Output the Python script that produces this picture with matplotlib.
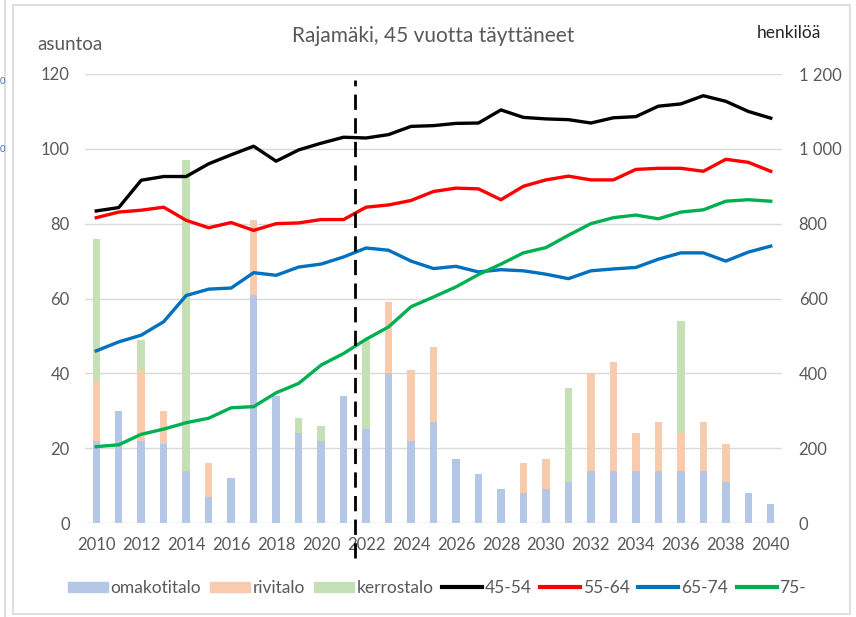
import matplotlib
matplotlib.use("Agg")
import matplotlib.pyplot as plt
from matplotlib.patches import Patch, Rectangle
from matplotlib.lines import Line2D
from matplotlib.ticker import FuncFormatter, MultipleLocator

years = list(range(2010, 2041))
omakotitalo = [22, 30, 22, 21, 14, 7, 12, 61, 34, 24, 22, 34,
               25, 40, 22, 27, 17, 13, 9, 8, 9, 11, 14, 14, 14, 14, 14, 14, 11, 8, 5]
rivitalo = [16, 0, 19, 9, 0, 9, 0, 20, 0, 0, 0, 0,
            0, 19, 19, 20, 0, 0, 0, 8, 8, 0, 26, 29, 10, 13, 10, 13, 10, 0, 0]
kerrostalo = [38, 0, 8, 0, 83, 0, 0, 0, 0, 4, 4, 0,
              24, 0, 0, 0, 0, 0, 0, 0, 0, 25, 0, 0, 0, 0, 30, 0, 0, 0, 0]

age_45_54 = [834, 843, 916, 926, 926, 960, 984, 1007, 967, 997, 1015, 1031,
             1029, 1038, 1060, 1062, 1068, 1069, 1104, 1084, 1080, 1078, 1069, 1083,
             1086, 1114, 1120, 1142, 1127, 1100, 1082]
age_55_64 = [816, 831, 836, 844, 809, 789, 803, 782, 800, 802, 811, 811,
             844, 850, 862, 886, 895, 893, 864, 900, 917, 927, 917, 917,
             945, 948, 948, 940, 972, 964, 940]
age_65_74 = [460, 484, 502, 538, 608, 625, 628, 669, 662, 684, 692, 711,
             735, 729, 700, 680, 686, 671, 677, 674, 665, 653, 674, 679,
             683, 705, 722, 722, 700, 724, 740]
age_75 = [204, 209, 237, 251, 268, 280, 308, 311, 348, 373, 422, 453,
          491, 524, 578, 604, 631, 664, 692, 722, 736, 769, 800, 816,
          823, 813, 831, 837, 860, 864, 860]

bar_labels = ["omakotitalo", "rivitalo", "kerrostalo"]
line_labels = ["45-54", "55-64", "65-74", "75-"]
title = "Rajamäki, 45 vuotta täyttäneet"

bar_colors = ["#B4C7E7", "#F8CBAD", "#C5E0B4"]
line_colors = ["#000000", "#FF0000", "#0070C0", "#00B050"]
txt = "#595959"
grid = "#D9D9D9"

plt.rcParams['font.family'] = ['Lato', 'DejaVu Sans']

W, H = 856, 617
fig = plt.figure(figsize=(W / 100, H / 100), dpi=100)
L, R, B, T = 85, 782, 523, 74
ax = fig.add_axes([L / W, 1 - B / H, (R - L) / W, (B - T) / H])
ax2 = ax.twinx()

x = list(range(len(years)))
bw = 0.33
bottom2 = [a + b for a, b in zip(omakotitalo, rivitalo)]
ax.bar(x, omakotitalo, bw, color=bar_colors[0], zorder=2)
ax.bar(x, rivitalo, bw, bottom=omakotitalo, color=bar_colors[1], zorder=2)
ax.bar(x, kerrostalo, bw, bottom=bottom2, color=bar_colors[2], zorder=2)

for series, c in zip([age_45_54, age_55_64, age_65_74, age_75], line_colors):
    ax2.plot(x, series, color=c, lw=2.4, solid_joinstyle='round', zorder=3)

ax.set_xlim(-0.5, len(years) - 0.5)
ax.set_ylim(0, 120)
ax2.set_ylim(0, 1200)
ax.yaxis.set_major_locator(MultipleLocator(20))
ax2.yaxis.set_major_locator(MultipleLocator(200))
ax2.yaxis.set_major_formatter(FuncFormatter(lambda v, p: f"{int(v):,}".replace(",", " ")))

ax.set_xticks(x[::2])
ax.set_xticklabels([str(y) for y in years[::2]])
ax.grid(axis='y', color=grid, lw=1, zorder=0)
ax.set_axisbelow(True)
for a in (ax, ax2):
    for s in a.spines.values():
        s.set_visible(False)
ax.tick_params(axis='y', length=0, pad=11, labelsize=12, labelcolor=txt)
ax2.tick_params(axis='y', length=0, pad=12, labelsize=12, labelcolor=txt)
ax.tick_params(axis='x', length=0, pad=10, labelsize=12, labelcolor=txt)

# dashed vertical separator
ax2.axvline(11.5, ymin=-0.078, ymax=0.987, color='black', lw=2,
            dashes=(5.5, 3), clip_on=False, zorder=5)

fig.text(433 / W, 1 - 36 / H, title, ha='center', va='center', fontsize=15, color=txt)
fig.text(37 / W, 1 - 45 / H, "asuntoa", ha='left', va='center', fontsize=13.5, color=txt)
fig.text(757 / W, 1 - 33 / H, "henkilöä", ha='left', va='center', fontsize=12.5, color='#262626')

# leftover labels at the far left edge
fig.text(0, 1 - 82 / H, "0", ha='left', va='center', fontsize=7, color='#4472C4')
fig.text(0, 1 - 150 / H, "0", ha='left', va='center', fontsize=7, color='#4472C4')

# chart borders
fig.add_artist(Rectangle((13 / W, 1 - 614 / H), (850 - 13) / W, (614 - 5) / H,
                         transform=fig.transFigure, fill=False, ec='#D9D9D9', lw=1.2))
fig.add_artist(Line2D([5 / W, 5 / W], [0, 1], transform=fig.transFigure,
                      color='#D9D9D9', lw=1.2))

handles = [Patch(color=c, label=l) for c, l in zip(bar_colors, bar_labels)]
handles += [Line2D([], [], color=c, lw=3, label=l) for c, l in zip(line_colors, line_labels)]
fs_leg = 12.5
hl = 40 / (fs_leg * 100 / 72)
fig.legend(handles=handles, loc='center', bbox_to_anchor=(437 / W, 1 - 588 / H), ncol=7,
           frameon=False, fontsize=fs_leg, labelcolor=txt, handlelength=hl,
           handleheight=0.5, handletextpad=0.15, columnspacing=0.5, borderaxespad=0)

fig.savefig("out.png", dpi=100)
